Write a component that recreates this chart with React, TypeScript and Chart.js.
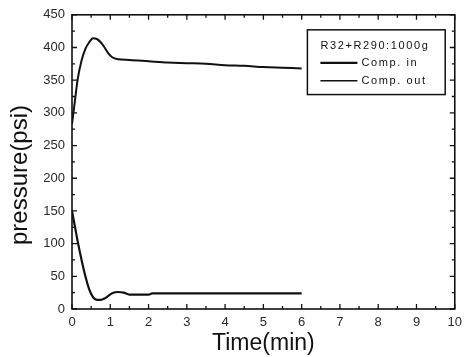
import React, { useEffect, useRef } from "react";
import { Chart, registerables } from "chart.js";

Chart.register(...registerables);

const timeOut = [0, 0.08, 0.15, 0.25, 0.35, 0.45, 0.55, 0.65, 0.75, 0.85, 0.95, 1.05, 1.2, 1.5, 2, 2.5, 3, 3.5, 4, 4.5, 5, 5.5, 6];
const compOut = [283, 320, 352, 380, 398, 408, 414, 413, 408, 400, 391, 385, 382, 381, 379, 377, 376, 375, 373, 372, 370, 369, 368];
const timeIn = [0, 0.08, 0.15, 0.25, 0.35, 0.45, 0.55, 0.65, 0.75, 0.85, 0.95, 1.05, 1.2, 1.35, 1.5, 1.8, 2, 2.1, 3, 4, 5, 6];
const compIn = [150, 125, 103, 75, 50, 30, 18, 14, 14, 16, 20, 24, 26, 25, 22, 22, 22, 24, 24, 24, 24, 24];
const xTicks = [0, 1, 2, 3, 4, 5, 6, 7, 8, 9, 10];
const yTicks = [0, 50, 100, 150, 200, 250, 300, 350, 400, 450];
const legendTitle = "R32+R290:1000g";
const seriesNames = ["Comp. in", "Comp. out"];
const yTitle = "pressure(psi)";
const xTitle = "Time(min)";

const FONT = "'Liberation Sans', Arial, sans-serif";

const framePlugin = {
  id: "frame",
  afterDraw(chart: any) {
    const ctx = chart.ctx;
    const a = chart.chartArea;
    const xs = chart.scales.x;
    const ys = chart.scales.y;
    ctx.save();
    ctx.strokeStyle = "#111";
    ctx.lineWidth = 1.6;
    ctx.strokeRect(a.left, a.top, a.right - a.left, a.bottom - a.top);
    ctx.lineWidth = 1.3;
    ctx.beginPath();
    for (let i = 0; i < xTicks.length; i++) {
      const v = xTicks[i];
      const px = xs.getPixelForValue(v);
      ctx.moveTo(px, a.bottom); ctx.lineTo(px, a.bottom - 5);
      ctx.moveTo(px, a.top); ctx.lineTo(px, a.top + 5);
      if (i < xTicks.length - 1) {
        const mx = xs.getPixelForValue(v + 0.5);
        ctx.moveTo(mx, a.bottom); ctx.lineTo(mx, a.bottom - 3);
        ctx.moveTo(mx, a.top); ctx.lineTo(mx, a.top + 3);
      }
    }
    for (let i = 0; i < yTicks.length; i++) {
      const v = yTicks[i];
      const py = ys.getPixelForValue(v);
      ctx.moveTo(a.left, py); ctx.lineTo(a.left + 5, py);
      ctx.moveTo(a.right, py); ctx.lineTo(a.right - 5, py);
      if (i < yTicks.length - 1) {
        const my = ys.getPixelForValue(v + 25);
        ctx.moveTo(a.left, my); ctx.lineTo(a.left + 3, my);
        ctx.moveTo(a.right, my); ctx.lineTo(a.right - 3, my);
      }
    }
    ctx.stroke();

    // y axis title (slightly below centre, as in the reference)
    ctx.save();
    ctx.fillStyle = "#111";
    ctx.font = "24px " + FONT;
    ctx.textAlign = "center";
    ctx.textBaseline = "middle";
    ctx.translate(20, ys.getPixelForValue(205));
    ctx.rotate(-Math.PI / 2);
    ctx.fillText(yTitle, 0, 0);
    ctx.restore();

    // legend box
    const bx = xs.getPixelForValue(6.15);
    const bw = xs.getPixelForValue(9.75) - bx;
    const by = ys.getPixelForValue(427);
    const bh = ys.getPixelForValue(328) - by;
    ctx.fillStyle = "#fff";
    ctx.fillRect(bx, by, bw, bh);
    ctx.lineWidth = 1.5;
    ctx.strokeRect(bx, by, bw, bh);
    ctx.fillStyle = "#111";
    ctx.font = "11px " + FONT;
    (ctx as any).letterSpacing = "1.6px";
    ctx.textBaseline = "middle";
    ctx.textAlign = "left";
    ctx.fillText(legendTitle, bx + 13, by + 16);
    const widths = [2.2, 1.5];
    for (let i = 0; i < seriesNames.length; i++) {
      const ly = by + 33 + i * 18;
      ctx.lineWidth = widths[i];
      ctx.beginPath();
      ctx.moveTo(bx + 13, ly);
      ctx.lineTo(bx + 50, ly);
      ctx.stroke();
      ctx.fillText(seriesNames[i], bx + 54, ly);
    }
    (ctx as any).letterSpacing = "0px";
    ctx.restore();
  },
};

export default function App() {
  const ref = useRef<HTMLCanvasElement>(null);
  useEffect(() => {
    if (!ref.current) return;
    const chart = new Chart(ref.current, {
      type: "line",
      data: {
        datasets: [
          {
            label: seriesNames[0],
            data: timeIn.map((t, i) => ({ x: t, y: compIn[i] })),
            borderColor: "#111",
            borderWidth: 2.2,
            pointRadius: 0,
            cubicInterpolationMode: "monotone",
          },
          {
            label: seriesNames[1],
            data: timeOut.map((t, i) => ({ x: t, y: compOut[i] })),
            borderColor: "#111",
            borderWidth: 2,
            pointRadius: 0,
            cubicInterpolationMode: "monotone",
          },
        ],
      },
      options: {
        animation: false,
        responsive: false,
        layout: { padding: { top: 13, right: 6, left: 0, bottom: 0 } },
        plugins: { legend: { display: false }, tooltip: { enabled: false } },
        scales: {
          x: {
            type: "linear",
            min: 0,
            max: 10,
            afterBuildTicks: (s: any) => { s.ticks = xTicks.map((v) => ({ value: v })); },
            afterFit: (s: any) => { s.height = 48; },
            grid: { display: false, drawTicks: false },
            border: { display: false },
            ticks: { color: "#2a2a2a", font: { size: 13, family: FONT }, padding: 6, maxRotation: 0 },
            title: { display: true, text: xTitle, color: "#111", font: { size: 23, family: FONT }, padding: { top: 1, bottom: 0 } },
          },
          y: {
            type: "linear",
            min: 0,
            max: 450,
            afterBuildTicks: (s: any) => { s.ticks = yTicks.map((v) => ({ value: v })); },
            afterFit: (s: any) => { s.width = 72; },
            grid: { display: false, drawTicks: false },
            border: { display: false },
            ticks: { color: "#2a2a2a", font: { size: 13, family: FONT }, padding: 7 },
            title: { display: false },
          },
        },
      },
      plugins: [framePlugin],
    } as any);
    return () => chart.destroy();
  }, []);
  return (
    <div style={{ position: "fixed", left: 0, top: 0, width: 468, height: 357, background: "#fff" }}>
      <canvas ref={ref} width={468} height={357} />
    </div>
  );
}
